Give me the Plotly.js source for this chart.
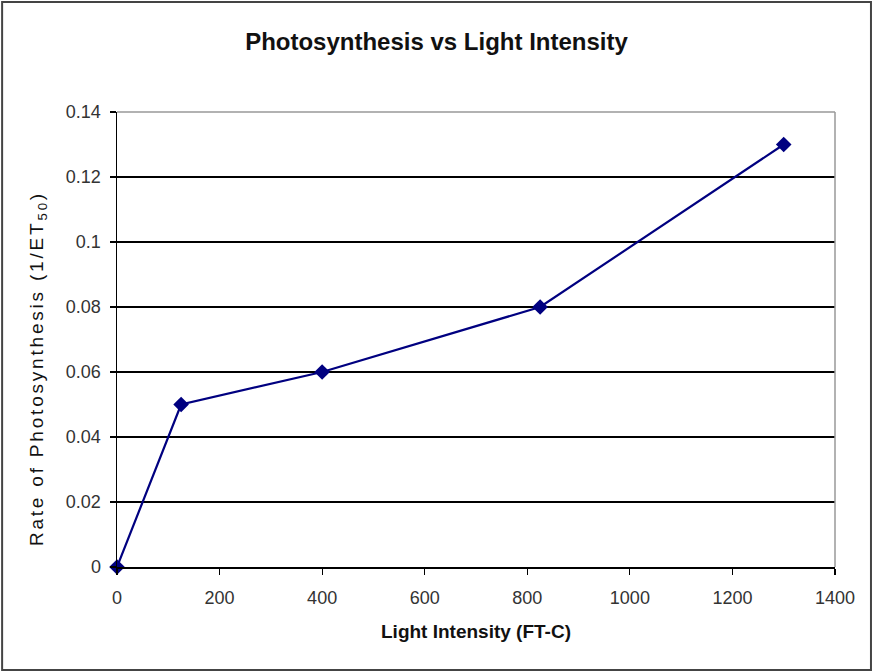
<!DOCTYPE html>
<html>
<head>
<meta charset="utf-8">
<script src="https://cdn.plot.ly/plotly-3.0.1.min.js"></script>
<style>
html,body{margin:0;padding:0;background:#fff;}
#chart{width:873px;height:672px;}
.annotation-text{letter-spacing:2.8px;}
</style>
</head>
<body>
<div id="chart"></div>
<script>
const lightIntensity = [0, 125, 400, 825, 1300];
const photoRate = [0, 0.05, 0.06, 0.08, 0.13];
const xTicks = [0, 200, 400, 600, 800, 1000, 1200, 1400];
const yTicks = [0, 0.02, 0.04, 0.06, 0.08, 0.1, 0.12, 0.14];
const yTickText = ['0', '0.02', '0.04', '0.06', '0.08', '0.1', '0.12', '0.14'];
const yTitle = 'Rate of Photosynthesis (1/ET<sub>50</sub>)';

const trace = {
  x: lightIntensity,
  y: photoRate,
  type: 'scatter',
  mode: 'lines+markers',
  line: {color: '#000080', width: 2.2},
  marker: {symbol: 'diamond', size: 12, color: '#000080'},
  cliponaxis: false,
  hoverinfo: 'none'
};

const layout = {
  width: 873, height: 672,
  margin: {l: 117, r: 38, t: 112, b: 105},
  paper_bgcolor: '#ffffff',
  plot_bgcolor: '#ffffff',
  showlegend: false,
  font: {family: 'Liberation Sans, Arial, sans-serif', color: '#222'},
  title: {
    text: 'Photosynthesis vs Light Intensity',
    font: {size: 24, color: '#111', family: 'Liberation Sans, Arial, sans-serif', weight: 'bold'},
    x: 0.5, xanchor: 'center', y: 0.9375, yanchor: 'middle'
  },
  xaxis: {
    range: [0, 1400],
    tickvals: xTicks,
    ticktext: xTicks.map(String),
    ticks: 'outside', ticklen: 6, tickcolor: '#000', tickwidth: 1.2,
    ticklabelstandoff: 8,
    showline: true, linecolor: '#000', linewidth: 1.5,
    showgrid: false, zeroline: false,
    tickfont: {size: 18, color: '#333'},
    title: {text: 'Light Intensity (FT-C)', font: {size: 19, color: '#111', weight: 'bold'}, standoff: 17}
  },
  yaxis: {
    range: [0, 0.14],
    tickvals: yTicks,
    ticktext: yTickText,
    ticks: 'outside', ticklen: 6, tickcolor: '#000', tickwidth: 1.2,
    ticklabelstandoff: 5,
    showline: true, linecolor: '#000', linewidth: 1.5,
    showgrid: true, gridcolor: '#000', gridwidth: 1.2,
    zeroline: false,
    tickfont: {size: 18, color: '#333'}
  },
  annotations: [
    {text: yTitle, xref: 'paper', yref: 'paper', x: -0.110, y: 0.435,
     xanchor: 'center', yanchor: 'middle', textangle: -90, showarrow: false,
     font: {size: 19, color: '#111', family: 'Liberation Sans, Arial, sans-serif'}}
  ],
  shapes: [
    {type: 'line', xref: 'paper', yref: 'paper', x0: 0, x1: 1, y0: 1, y1: 1, line: {color: '#999', width: 1.5}, layer: 'above'},
    {type: 'line', xref: 'paper', yref: 'paper', x0: 1, x1: 1, y0: 0, y1: 1, line: {color: '#999', width: 1.5}, layer: 'above'},
    {type: 'rect', xref: 'paper', yref: 'paper', x0: -0.160, x1: 1.0501, y0: -0.2264, y1: 1.2418, line: {color: '#444', width: 2}, layer: 'above'}
  ]
};

Plotly.newPlot('chart', [trace], layout, {displayModeBar: false, staticPlot: true});
</script>
</body>
</html>
